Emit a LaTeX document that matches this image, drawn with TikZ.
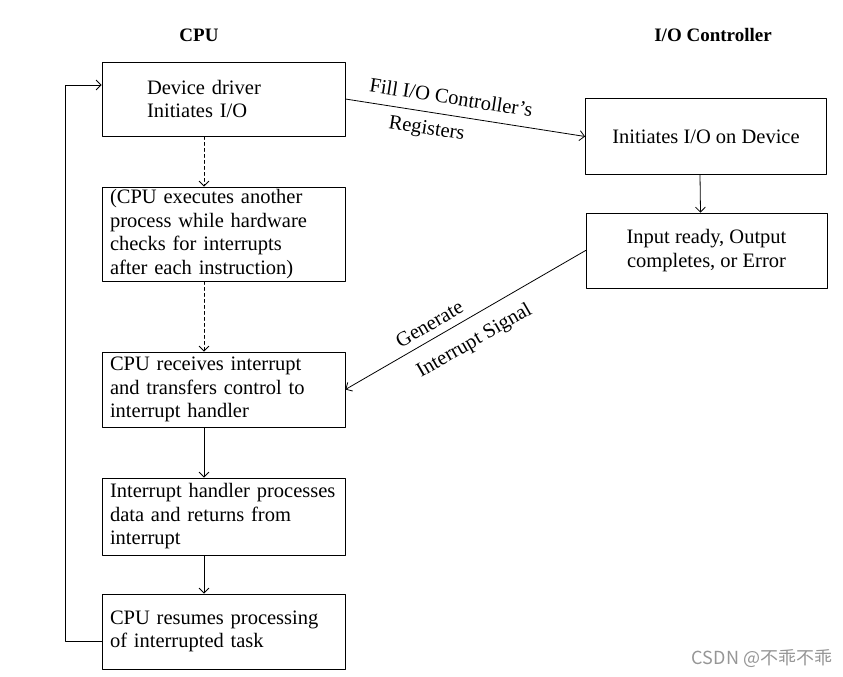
\documentclass[tikz,border=0pt]{standalone}
\usepackage{fontspec}
\setmainfont{Liberation Serif}
\newfontfamily\cjkfont{Noto Sans CJK SC}
\usetikzlibrary{arrows.meta}
\definecolor{wmgray}{RGB}{150,150,150}
\begin{document}
\begin{tikzpicture}[x=1pt,y=-1pt,>={Straight Barb[length=5pt,width=10pt]},line join=round,line cap=round,line width=0.8pt,
					every node/.style={font={\fontsize{20.5}{23.5}\selectfont}},
					cpubox/.style={draw,align=left,text width=227pt,inner xsep=8pt,inner ysep=0pt},
					iobox/.style={draw,align=center,minimum width=241pt,minimum height=76pt,inner sep=0pt},
					head/.style={font={\fontsize{19}{22}\selectfont\bfseries}},
					declare function={
						xC = 223.5; xIO = 706;
						xL = 65;
					}]
					\useasboundingbox (0,0) rectangle (843,677);
					% column heads
					\node[head] (hcpu) at (199,35) {CPU};
					\node[head] (hio) at (713,35) {I/O Controller};
					% CPU side
					\node[cpubox,text width=153pt,inner xsep=45pt,minimum height=74pt] (drv) at (xC,99) {Device driver\\Initiates I/O};
					\node[cpubox,minimum height=94pt] (exec) at (xC,234) {(CPU executes another\\process while hardware\\checks for interrupts\\after each instruction)};
					\node[cpubox,minimum height=75pt] (recv) at (xC,389.5) {CPU receives interrupt\\and transfers control to\\interrupt handler};
					\node[cpubox,minimum height=77pt] (hdl) at (xC,516.5) {Interrupt handler processes\\data and returns from\\interrupt};
					\node[cpubox,minimum height=75pt] (res) at (xC,631.5) {CPU resumes processing\\of interrupted task};
					% controller side
					\node[iobox] (init) at (xIO,136.5) {Initiates I/O on Device};
					\node[iobox,minimum height=75pt] (ready) at (706.5,250.5) {Input ready, Output\\completes, or Error};
					% arrows
					\draw[->,dash pattern=on 3pt off 3pt] ([xshift=-19.5pt]drv.south) -- ([xshift=-19.5pt]exec.north);
					\draw[->,dash pattern=on 3pt off 3pt] ([xshift=-19.5pt]exec.south) -- ([xshift=-19.5pt]recv.north);
					\draw[->] ([xshift=-19.5pt]recv.south) -- ([xshift=-19.5pt]hdl.north);
					\draw[->] ([xshift=-19.5pt]hdl.south) -- ([xshift=-19.5pt]res.north);
					\draw[->] ([xshift=-6pt]init.south) -- ([xshift=-6pt]ready.north);
					\draw[->] (drv.east) -- (init.west)
					node[pos=0.43,sloped,above=7pt] {Fill I/O Controller's}
					node[pos=0.35,sloped,below=5pt] {Registers};
					\draw[->] (ready.west) -- (recv.east)
					node[pos=0.62,sloped,above=4pt] {Generate}
					node[pos=0.51,sloped,below=10pt] {Interrupt Signal};
					\draw[->] ([yshift=-10pt]res.west) -| (xL,85) -- ([yshift=14pt]drv.west);
					% watermark
					\node[text=wmgray,font={\fontsize{18}{20}\cjkfont}] (wm) at (762,659) {CSDN @不乖不乖};
				\end{tikzpicture}
\end{document}
